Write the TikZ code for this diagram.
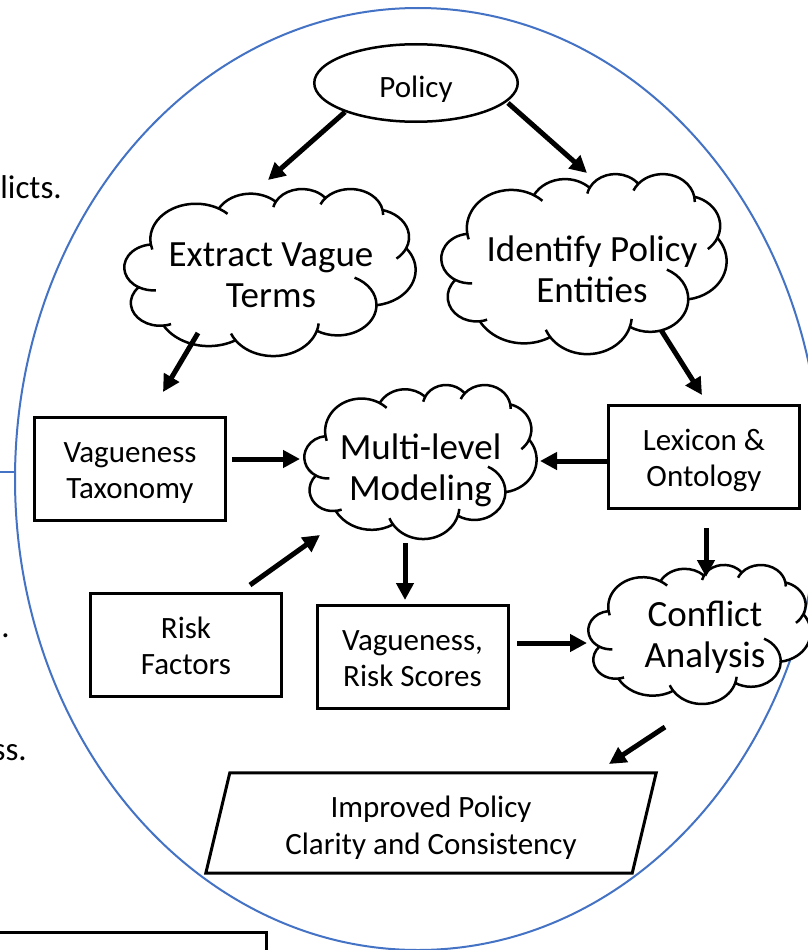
\documentclass[tikz,border=0pt]{standalone}
\usepackage{fontspec}
\setmainfont{Carlito}
\usetikzlibrary{arrows.meta,shapes.geometric}
\definecolor{frameblue}{RGB}{68,114,196}
\newcommand\toprl{\rule{0pt}{34pt}}
% PowerPoint-like cloud: name, cx, cy, w, h
\newcommand\pptcloud[5]{%
  \node[minimum width=#4pt, minimum height=#5pt, inner sep=0pt, outer sep=0pt] (#1) at (#2,#3) {};
  \begin{scope}[shift={({#2-#4/2},{#3-#5/2})}, xscale={#4/432}, yscale={#5/432}]
    \draw[cloudline, fill=white] (39.00,143.70)
      arc[start angle=172.25, delta angle=128.10, x radius=67.53, y radius=91.90]
      arc[start angle=-152.05, delta angle=106.62, x radius=53.33, y radius=72.67]
      arc[start angle=-153.49, delta angle=116.17, x radius=43.65, y radius=59.45]
      arc[start angle=-139.71, delta angle=129.50, x radius=48.57, y radius=65.95]
      arc[start angle=-74.77, delta angle=97.98, x radius=53.33, y radius=72.73]
      arc[start angle=-37.51, delta angle=119.37, x radius=67.75, y radius=92.20]
      arc[start angle=0.46, delta angle=121.52, x radius=57.85, y radius=78.67]
      arc[start angle=16.85, delta angle=129.38, x radius=67.52, y radius=92.15]
      arc[start angle=58.98, delta angle=91.22, x radius=77.20, y radius=105.43]
      arc[start angle=83.31, delta angle=139.80, x radius=43.60, y radius=59.18]
      arc[start angle=120.35, delta angle=143.76, x radius=43.45, y radius=59.45]
      -- cycle;
    \draw[cloudline] (43.100,204.136) ++(85.55:43.45 and 59.45) arc[start angle=85.55, delta angle=34.80, x radius=43.45, y radius=59.45];
    \draw[cloudline] (52.968,295.888) ++(68.24:43.60 and 59.18) arc[start angle=68.24, delta angle=15.07, x radius=43.60, y radius=59.18];
    \draw[cloudline] (220.952,341.386) ++(146.23:67.52 and 92.15) arc[start angle=146.23, delta angle=12.24, x radius=67.52, y radius=92.15];
    \draw[cloudline] (220.952,341.386) ++(4.74:67.52 and 92.15) arc[start angle=4.74, delta angle=12.11, x radius=67.52, y radius=92.15];
    \draw[cloudline] (316.210,301.363) ++(-64.03:57.85 and 78.67) arc[start angle=-64.03, delta angle=64.49, x radius=57.85, y radius=78.67];
    \draw[cloudline] (369.201,125.932) ++(23.21:53.33 and 72.73) arc[start angle=23.21, delta angle=26.42, x radius=53.33, y radius=72.73];
    \draw[cloudline] (335.410,67.447) ++(-10.21:48.57 and 65.95) arc[start angle=-10.21, delta angle=11.03, x radius=48.57, y radius=65.95];
    \draw[cloudline] (335.410,67.447) ++(-156.29:48.57 and 65.95) arc[start angle=-156.29, delta angle=16.58, x radius=48.57, y radius=65.95];
    \draw[cloudline] (263.644,60.840) ++(-167.73:43.65 and 59.45) arc[start angle=-167.73, delta angle=14.24, x radius=43.65, y radius=59.45];
    \draw[cloudline] (105.913,131.312) ++(-59.65:67.53 and 91.90) arc[start angle=-59.65, delta angle=13.90, x radius=67.53, y radius=91.90];
    \draw[cloudline] (105.913,131.312) ++(163.19:67.53 and 91.90) arc[start angle=163.19, delta angle=9.06, x radius=67.53, y radius=91.90];
  \end{scope}}
\begin{document}
\begin{tikzpicture}[x=1pt,y=-1pt,
  arr/.style={line width=5pt,-{Triangle[length=17pt,width=17pt]}},
  cloudline/.style={line width=2.5pt,line join=round},
  boxnode/.style={draw,line width=3pt,fill=white,minimum width=191pt,minimum height=103pt,inner sep=0pt,align=center,font=\fontsize{31}{36}\selectfont},
  cloudtext/.style={inner sep=0pt,align=center,font=\fontsize{37}{41}\selectfont},
  frag/.style={inner sep=0pt,anchor=base east,font=\fontsize{33}{40}\selectfont}]
\useasboundingbox (0,0) rectangle (808,950);
\fill[white] (0,0) rectangle (808,950);
\begin{scope}
\clip (0,0) rectangle (808,950);
% outer frame ellipse
\node[ellipse,draw=frameblue,line width=2pt,minimum width=806pt,minimum height=942pt,inner sep=0pt] (frame) at (418,479) {};
\coordinate (lstub) at (0,472);
\draw[frameblue,line width=1.6pt] (lstub) -- (lstub -| frame.west);
% fragments of surrounding page
\node[frag] (fragA) at (62,198) {licts.};
\node[frag] (fragB) at (10,637) {.};
\node[frag] (fragC) at (27,760) {ss.};
\draw[line width=3pt] (-10,932) rectangle (266,990);
% policy
\node[ellipse,draw,line width=2.5pt,fill=white,minimum width=203.5pt,minimum height=77.5pt,inner sep=0pt,
      font=\fontsize{31}{36}\selectfont,text height=30pt,text depth=2pt] (policy) at (416,83) {Policy};
% clouds
\pptcloud{extract}{270}{272}{291}{167}
\node[cloudtext] (extractT) at (271,279) {\strut Extract Vague\\\strut Terms};
\pptcloud{identify}{584}{263.5}{285}{180}
\node[cloudtext] (identifyT) at (592,274) {\strut Identify Policy\\\strut Entities};
\pptcloud{multi}{420.5}{461.5}{232}{154}
\node[cloudtext] (multiT) at (420.5,472) {\strut Multi-level\\\strut Modeling};
\pptcloud{conflict}{699.5}{634}{222}{139}
\node[cloudtext] (conflictT) at (705,639) {\strut Conflict\\\strut Analysis};
% boxes
\node[boxnode] (vagtax) at (130,469) {\toprl Vagueness\\\strut Taxonomy};
\node[boxnode] (lexicon) at (704,456.5) {\toprl Lexicon \&\\\strut Ontology};
\node[boxnode] (risk) at (186,644.5) {\toprl Risk\\\strut Factors};
\node[boxnode] (vagrisk) at (412.5,657) {\toprl Vagueness,\\\strut Risk Scores};
% improved policy parallelogram
\node[minimum width=450pt,minimum height=100pt,inner sep=0pt] (improved) at (431,823) {};
\draw[line width=3pt,line join=miter,fill=white] ([xshift=24pt]improved.north west) -- (improved.north east)
  -- ([xshift=-24pt]improved.south east) -- (improved.south west) -- cycle;
\node[inner sep=0pt,align=center,font=\fontsize{31}{37}\selectfont] (improvedT) at (431,829)
  {\strut Improved Policy\\\strut Clarity and Consistency};
% arrows
\draw[arr] ([shift={(-71,29)}]policy.center) -- ([shift={(-2,-92)}]extract.center);
\draw[arr] ([shift={(92,20)}]policy.center) -- ([shift={(3,-90.5)}]identify.center);
\draw[arr] ([shift={(-72,61)}]extract.center) -- ([shift={(33,-77)}]vagtax.center);
\draw[arr] ([shift={(77,66.5)}]identify.center) -- ([shift={(-2,-61.5)}]lexicon.center);
\draw[arr] ([shift={(102,-10)}]vagtax.center) -- ([shift={(-120.5,-2.5)}]multi.center);
\draw[arr] ([shift={(-97,4.5)}]lexicon.center) -- ([shift={(119.5,-0.5)}]multi.center);
\draw[arr] ([shift={(2,71.5)}]lexicon.center) -- ([shift={(6.5,-57)}]conflict.center);
\draw[arr] ([shift={(64,-59.5)}]risk.center) -- ([shift={(-100.5,73.5)}]multi.center);
\draw[arr] ([shift={(-15.5,81.5)}]multi.center) -- ([shift={(-7.5,-57)}]vagrisk.center);
\draw[arr] ([shift={(104.5,-14)}]vagrisk.center) -- ([shift={(-112.5,9)}]conflict.center);
\draw[arr] ([shift={(-34.5,93)}]conflict.center) -- ([shift={(178,-59)}]improved.center);
\end{scope}
\end{tikzpicture}
\end{document}
